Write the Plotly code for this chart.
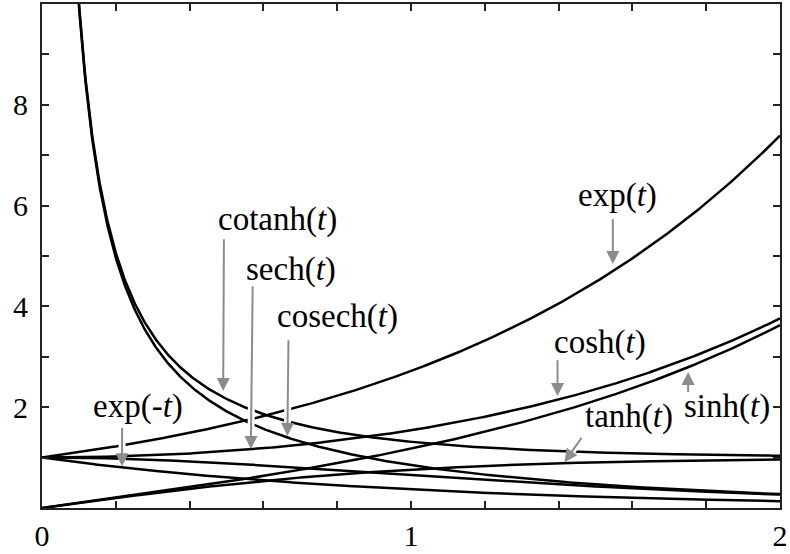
import numpy as np
import plotly.graph_objects as go

# Hyperbolic and exponential functions on t in [0, 2]
t_full = np.linspace(0.0, 2.0, 801)
t_pos = np.linspace(0.085, 2.0, 801)   # cotanh / cosech blow up at t = 0

curve_names = ["exp(t)", "exp(-t)", "cosh(t)", "sinh(t)", "tanh(t)",
               "sech(t)", "cosech(t)", "cotanh(t)"]
curve_funcs = {
    "exp(t)": np.exp,
    "exp(-t)": lambda t: np.exp(-t),
    "cosh(t)": np.cosh,
    "sinh(t)": np.sinh,
    "tanh(t)": np.tanh,
    "sech(t)": lambda t: 1.0 / np.cosh(t),
    "cosech(t)": lambda t: 1.0 / np.sinh(t),
    "cotanh(t)": lambda t: 1.0 / np.tanh(t),
}
singular = {"cosech(t)", "cotanh(t)"}

# Labels: text position and arrow (tail -> tip), in data coordinates
label_text = ["exp(<i>t</i>)", "cotanh(<i>t</i>)", "sech(<i>t</i>)", "cosech(<i>t</i>)",
              "exp(-<i>t</i>)", "cosh(<i>t</i>)", "sinh(<i>t</i>)", "tanh(<i>t</i>)"]
label_x = [1.560, 0.637, 0.675, 0.802, 0.259, 1.511, 1.855, 1.591]
label_y = [6.20, 5.73, 4.74, 3.79, 2.02, 3.29, 2.02, 1.82]
tail_x = [1.547, 0.493, 0.571, 0.668, 0.217, 1.397, 1.751, 1.466]
tail_y = [5.77, 5.37, 4.44, 3.37, 1.63, 2.97, 2.26, 1.43]
tip_x = [1.547, 0.491, 0.566, 0.665, 0.217, 1.397, 1.751, 1.416]
tip_y = [4.84, 2.32, 1.17, 1.43, 0.83, 2.22, 2.70, 0.91]

x_ticks = [0, 0.2, 0.4, 0.6, 0.8, 1.0, 1.2, 1.4, 1.6, 1.8, 2.0]
x_ticktext = ["0", "", "", "", "", "1", "", "", "", "", "2"]
y_ticks = [1, 2, 3, 4, 5, 6, 7, 8, 9]
y_ticktext = ["", "2", "", "4", "", "6", "", "8", ""]

SERIF = "Times New Roman, Liberation Serif, DejaVu Serif, serif"
AXIS_COLOR = "#222222"
ARROW_COLOR = "#8c8c8c"

fig = go.Figure()
for name in curve_names:
    tt = t_pos if name in singular else t_full
    fig.add_trace(go.Scatter(
        x=tt, y=curve_funcs[name](tt), mode="lines", name=name,
        line=dict(color="black", width=2.5), showlegend=False,
        hoverinfo="skip",
    ))

annotations = []
for i in range(len(label_text)):
    # white halo under each arrow so crossing curves appear broken
    annotations.append(dict(
        x=tip_x[i], y=tip_y[i], ax=tail_x[i], ay=tail_y[i],
        xref="x", yref="y", axref="x", ayref="y",
        text=" ", font=dict(size=1), showarrow=True,
        arrowhead=0, arrowwidth=7, arrowcolor="white", standoff=5,
    ))
    annotations.append(dict(
        x=tip_x[i], y=tip_y[i], ax=tail_x[i], ay=tail_y[i],
        xref="x", yref="y", axref="x", ayref="y",
        text=" ", font=dict(size=1), showarrow=True,
        arrowhead=2, arrowsize=1.3, arrowwidth=2, arrowcolor=ARROW_COLOR,
    ))
    annotations.append(dict(
        x=label_x[i], y=label_y[i], xref="x", yref="y",
        text=label_text[i], showarrow=False,
        font=dict(family=SERIF, size=33, color="black"),
    ))

axis_common = dict(
    showgrid=False, zeroline=False, showline=True, linewidth=2,
    linecolor=AXIS_COLOR, mirror="ticks", ticks="inside", ticklen=7,
    tickwidth=2, tickcolor=AXIS_COLOR, ticklabeloverflow="allow",
    tickfont=dict(family=SERIF, size=30, color="black"),
)

fig.update_layout(
    width=790, height=554,
    margin=dict(l=42, r=2, t=4, b=45),
    paper_bgcolor="white", plot_bgcolor="white",
    font=dict(family=SERIF),
    xaxis=dict(range=[0, 2], tickmode="array", tickvals=x_ticks,
               ticktext=x_ticktext, **axis_common),
    yaxis=dict(range=[0, 10], tickmode="array", tickvals=y_ticks,
               ticktext=y_ticktext, ticklabelstandoff=6, **axis_common),
    annotations=annotations,
)

fig.write_html("out.html")
